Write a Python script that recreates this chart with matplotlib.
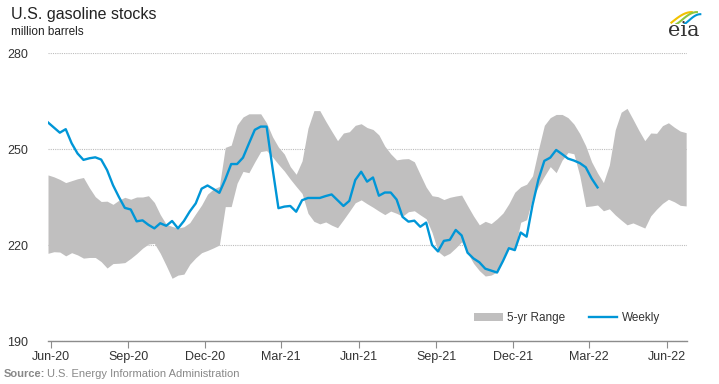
# U.S. gasoline stocks vs 5-yr range, EIA style chart

import numpy as np
import pandas as pd
import matplotlib
matplotlib.use("Agg")
import matplotlib.pyplot as plt
import matplotlib.dates as mdates
from matplotlib.patches import Patch
from matplotlib.lines import Line2D

# weekly readings (million barrels), first week ending 2020-05-29
weekly = [258.3, 256.7, 255.1, 256.2, 251.8, 248.6, 246.6, 247.1, 247.4, 246.7,
          243.4, 238.7, 235.0, 231.6, 231.1, 227.4, 227.7, 226.3, 225.2, 226.8,
          226.0, 227.5, 225.2, 227.5, 230.5, 233.0, 237.6, 238.6, 237.5, 236.3,
          240.5, 245.3, 245.3, 247.3, 251.7, 256.0, 257.0, 257.0, 244.0, 231.5,
          232.0, 232.2, 230.4, 234.0, 234.7, 234.7, 234.7, 235.3, 235.8, 234.0,
          232.2, 233.8, 240.3, 242.9, 239.8, 241.1, 235.4, 236.4, 236.4, 234.2,
          228.8, 227.3, 227.6, 225.7, 227.0, 220.0, 218.0, 221.3, 221.6, 224.7,
          223.0, 217.6, 215.8, 214.6, 212.6, 212.0, 211.4, 215.0, 219.0, 218.4,
          223.9, 222.6, 232.5, 240.5, 246.3, 247.3, 249.7, 248.4, 247.0, 246.4,
          245.6, 244.3, 240.8, 238.0]

range_high = [241.9, 241.3, 240.5, 239.5, 240.1, 240.7, 241.1, 237.9, 235.1, 233.6,
              233.7, 232.7, 234.0, 234.9, 234.3, 235.0, 235.0, 235.4, 233.3, 229.5,
              226.5, 225.8, 225.3, 225.7, 227.0, 229.8, 232.5, 235.9, 237.5, 238.3,
              250.5, 251.2, 257.5, 260.0, 261.0, 261.0, 261.0, 258.1, 253.8, 250.6,
              248.4, 244.5, 242.1, 246.3, 256.5, 262.0, 262.0, 258.7, 255.6, 252.6,
              255.0, 255.4, 257.4, 257.9, 256.7, 256.1, 254.4, 250.9, 248.5, 246.6,
              246.9, 247.0, 246.0, 242.0, 238.1, 235.4, 235.1, 234.2, 234.9, 235.3,
              235.6, 232.3, 229.1, 226.3, 227.4, 226.7, 228.2, 230.0, 232.9, 236.5,
              238.2, 239.0, 241.6, 249.8, 257.4, 259.8, 260.8, 260.8, 259.8, 257.8,
              254.8, 251.0, 246.0, 242.5, 239.5, 245.0, 256.0, 261.5, 262.7, 259.3,
              255.8, 252.6, 255.0, 254.9, 257.3, 258.2, 256.8, 255.6, 255.1]

range_low = [217.4, 217.9, 217.8, 216.6, 217.6, 216.9, 215.9, 216.1, 216.1, 214.8,
             212.8, 214.2, 214.3, 214.5, 215.8, 217.3, 219.0, 220.3, 220.5, 217.4,
             213.6, 209.6, 210.6, 210.9, 214.0, 216.0, 217.6, 218.3, 219.1, 220.0,
             232.0, 232.0, 239.3, 243.0, 242.6, 246.0, 249.2, 249.5, 247.5, 245.2,
             243.1, 240.6, 238.3, 236.1, 229.9, 227.4, 226.6, 227.2, 226.2, 225.4,
             227.9, 230.5, 233.2, 234.1, 232.9, 231.8, 230.6, 229.5, 230.6, 229.9,
             229.0, 230.4, 230.7, 229.4, 228.2, 223.9, 218.0, 216.5, 217.4, 219.1,
             221.0, 217.6, 214.3, 212.0, 210.3, 210.6, 211.6, 215.5, 219.4, 218.7,
             227.1, 227.9, 234.6, 238.3, 241.5, 244.5, 242.6, 246.5, 248.9, 248.5,
             241.6, 232.0, 232.2, 232.5, 230.7, 231.3, 229.4, 227.8, 226.3, 226.9,
             226.1, 225.3, 229.1, 231.2, 233.0, 234.3, 233.5, 232.4, 232.2]

range_dates = pd.date_range("2020-05-29", periods=len(range_high), freq="7D")
weekly_dates = range_dates[:len(weekly)]

BLUE = "#0096d7"
BAND = "#c0bfbf"
TXT = "#333333"

plt.rcParams["font.family"] = ["Liberation Sans", "DejaVu Sans"]

fig = plt.figure(figsize=(7.19, 3.84), dpi=100)
ax = fig.add_axes([48 / 719, 1 - 341 / 384, (687 - 48) / 719, (341 - 53) / 384])

ax.fill_between(range_dates, range_low, range_high, color=BAND, lw=0, zorder=2)
ax.plot(weekly_dates, weekly, color=BLUE, lw=1.7, zorder=3)

ax.set_ylim(190, 280)
ax.set_yticks([190, 220, 250, 280])
ax.set_xlim(pd.Timestamp("2020-05-29"), pd.Timestamp("2022-06-25"))
ax.xaxis.set_major_locator(mdates.MonthLocator(bymonth=[3, 6, 9, 12]))
ax.xaxis.set_major_formatter(mdates.DateFormatter("%b-%y"))

ax.grid(axis="y", color="#bdbdbd", linestyle=(0, (1, 1)), lw=0.8, zorder=1)
for s in ["left", "top", "right"]:
    ax.spines[s].set_visible(False)
ax.spines["bottom"].set_color("#8c8c8c")
ax.spines["bottom"].set_linewidth(1.0)
ax.tick_params(axis="x", direction="out", length=5, color="#8c8c8c",
               labelsize=9, labelcolor=TXT, pad=2)
ax.tick_params(axis="y", length=0, labelsize=9, labelcolor=TXT, pad=14)

handles = [Patch(facecolor=BAND, edgecolor="none"),
           Line2D([0], [0], color=BLUE, lw=1.7)]
leg = ax.legend(handles, ["5-yr Range", "Weekly"], loc="center right",
                bbox_to_anchor=(0.975, 0.08), ncol=2, frameon=False,
                fontsize=8.5, handlelength=2.4, handleheight=0.7,
                columnspacing=2.0, handletextpad=0.4)
for t in leg.get_texts():
    t.set_color(TXT)

fig.text(11 / 719, 1 - 14 / 384, "U.S. gasoline stocks", fontsize=11.5,
         color="#222222", va="center", ha="left")
fig.text(11 / 719, 1 - 32 / 384, "million barrels", fontsize=8.5,
         color="#222222", va="center", ha="left")

fig.text(4 / 719, 1 - 374 / 384, "Source:", fontsize=8, color="#888888",
         fontweight="bold", va="center", ha="left")
fig.text(47 / 719, 1 - 374 / 384, "U.S. Energy Information Administration",
         fontsize=8, color="#888888", va="center", ha="left")

# small eia logo
fig.text(684 / 719, 1 - 30 / 384, "eia", fontsize=15, family="DejaVu Serif",
         color="#333333", va="center", ha="center")
lax = fig.add_axes([668 / 719, 1 - 24 / 384, 34 / 719, 14 / 384])
lax.set_xlim(0, 1)
lax.set_ylim(0, 1)
lax.axis("off")
t = np.linspace(0, 1, 30)
lax.plot(0.1 + 0.6 * t, 0.1 + 0.75 * np.sin(t * np.pi / 2), color="#f2c200", lw=1.5)
lax.plot(0.25 + 0.6 * t, 0.0 + 0.85 * np.sin(t * np.pi / 2) ** 1.2, color="#8dc63f", lw=1.5)
lax.plot(0.4 + 0.55 * t, -0.1 + 0.8 * np.sin(t * np.pi / 2) ** 1.5, color=BLUE, lw=1.5)

fig.savefig("out.png", dpi=100)
